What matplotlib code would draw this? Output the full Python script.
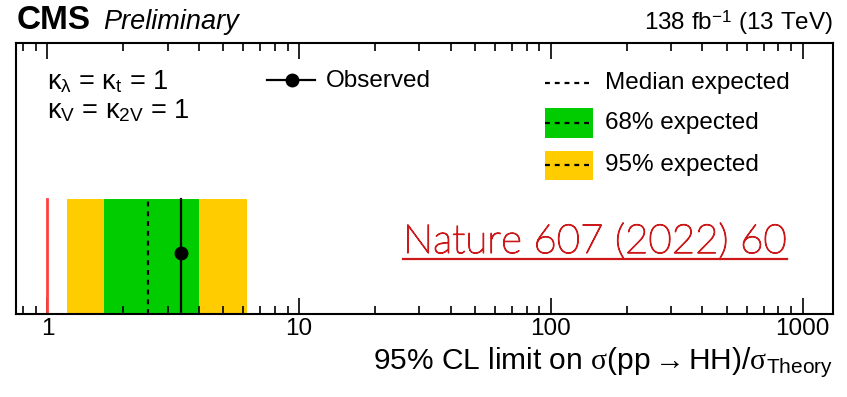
import matplotlib
matplotlib.use("Agg")
import matplotlib.pyplot as plt
import matplotlib.patheffects as pe
from matplotlib.lines import Line2D
from matplotlib.patches import Rectangle

plt.rcParams['font.family'] = ['Liberation Sans', 'DejaVu Sans']
plt.rcParams['mathtext.fontset'] = 'custom'
plt.rcParams['mathtext.rm'] = 'Liberation Serif'
plt.rcParams['mathtext.sf'] = 'Liberation Sans'
plt.rcParams['mathtext.it'] = 'Liberation Serif:italic'

# HH signal strength limits (ratio to SM cross section)
sm_line = 1.0
observed = 3.4
expected = 2.5
band_68 = [1.68, 4.0]
band_95 = [1.2, 6.2]
tick_values = [1, 10, 100, 1000]
tick_labels = ['1', '10', '100', '1000']

W, H = 847, 397
fig = plt.figure(figsize=(W / 100, H / 100), dpi=100)
ax_l, ax_r, ax_t, ax_b = 16, 833, 43, 314
ax = fig.add_axes([ax_l / W, 1 - ax_b / H, (ax_r - ax_l) / W, (ax_b - ax_t) / H])


def axpos(px, py):
    # pixel position -> axes fraction
    return (px - ax_l) / (ax_r - ax_l), (ax_b - py) / (ax_b - ax_t)


def figpos(px, py):
    return px / W, 1 - py / H


green = '#00cc00'
yellow = '#ffcc00'
band_top = axpos(0, 199)[1]
pt_y = axpos(0, 253)[1]
fs = 17.5

ax.axvspan(band_95[0], band_95[1], ymin=0, ymax=band_top, color=yellow, lw=0)
ax.axvspan(band_68[0], band_68[1], ymin=0, ymax=band_top, color=green, lw=0)
ax.axvline(expected, ymin=0, ymax=band_top, color='black', ls=(0, (2.2, 2.2)), lw=1.6)
ax.axvline(observed, ymin=0, ymax=band_top, color='black', lw=1.6)
ax.plot([observed], [pt_y], 'o', color='black', ms=9, transform=ax.get_xaxis_transform())
ax.axvline(sm_line, ymin=0, ymax=band_top, color='#ff4040', lw=2)

ax.set_xscale('log')
ax.set_xlim(0.75, 1320)
ax.set_ylim(0, 1)
ax.set_xticks(tick_values)
ax.set_xticklabels(tick_labels, fontsize=fs)
ax.set_yticks([])
ax.tick_params(axis='x', which='major', direction='in', length=11.5, width=1.2, top=True, pad=3)
ax.tick_params(axis='x', which='minor', direction='in', length=6, width=1.2, top=True)
for s in ax.spines.values():
    s.set_linewidth(1.5)

# legend drawn by hand
lx0, lx1 = 545, 593
for y, col in [(123, green), (165, yellow)]:
    x0, y0 = axpos(lx0, y + 14.5)
    x1, y1 = axpos(lx1, y - 14.5)
    ax.add_patch(Rectangle((x0, y0), x1 - x0, y1 - y0, color=col, lw=0, transform=ax.transAxes))
for y in (83, 123, 165):
    x0, yy = axpos(lx0, y)
    x1, _ = axpos(lx1, y)
    ax.add_line(Line2D([x0, x1], [yy, yy], color='black', ls=(0, (2.2, 2.2)), lw=1.6, transform=ax.transAxes))
for y, txt in [(83, 'Median expected'), (123, '68% expected'), (165, '95% expected')]:
    ax.text(*axpos(605, y), txt, transform=ax.transAxes, fontsize=fs, va='center', ha='left')

x0, yy = axpos(267, 80)
x1, _ = axpos(315, 80)
ax.add_line(Line2D([x0, x1], [yy, yy], color='black', lw=1.6, transform=ax.transAxes))
ax.plot([axpos(292, 80)[0]], [yy], 'o', color='black', ms=9, transform=ax.transAxes)
ax.text(*axpos(326, 81), 'Observed', transform=ax.transAxes, fontsize=fs, va='center', ha='left')

ax.text(*axpos(47, 82), r'κ$_{\mathsf{λ}}$ = κ$_{\mathsf{t}}$ = 1',
        transform=ax.transAxes, fontsize=19.5, va='center', ha='left')
ax.text(*axpos(47, 111), r'κ$_{\mathsf{V}}$ = κ$_{\mathsf{2V}}$ = 1',
        transform=ax.transAxes, fontsize=19.5, va='center', ha='left')

ref = ax.text(*axpos(403, 253), 'Nature 607 (2022) 60', transform=ax.transAxes,
              fontsize=29, color='#cc1818', va='baseline', ha='left',
              family=['Lato', 'Liberation Sans'], fontweight='light',
              path_effects=[pe.withStroke(linewidth=0.9, foreground='#cc1818')])
fig.canvas.draw()
bb = ref.get_window_extent().transformed(ax.transAxes.inverted())
uy = axpos(0, 259)[1]
ax.add_line(Line2D([bb.x0, bb.x1], [uy, uy], color='#cc1818', lw=1.6, transform=ax.transAxes))

fig.text(*figpos(17, 29), 'CMS', fontsize=24, fontweight='bold', va='baseline', ha='left')
fig.text(*figpos(103, 29), 'Preliminary', fontsize=19.5, style='italic', va='baseline', ha='left')
fig.text(*figpos(833, 30), r'138 fb$^{\mathsf{-1}}$ (13 TeV)', fontsize=fs, va='baseline', ha='right')
fig.text(*figpos(833, 370),
         r'95% CL limit on $\mathrm{\sigma}$(pp$\rightarrow$HH)/$\mathrm{\sigma}_{\mathsf{Theory}}$',
         fontsize=21.5, va='baseline', ha='right')

fig.savefig('out.png', dpi=100)
